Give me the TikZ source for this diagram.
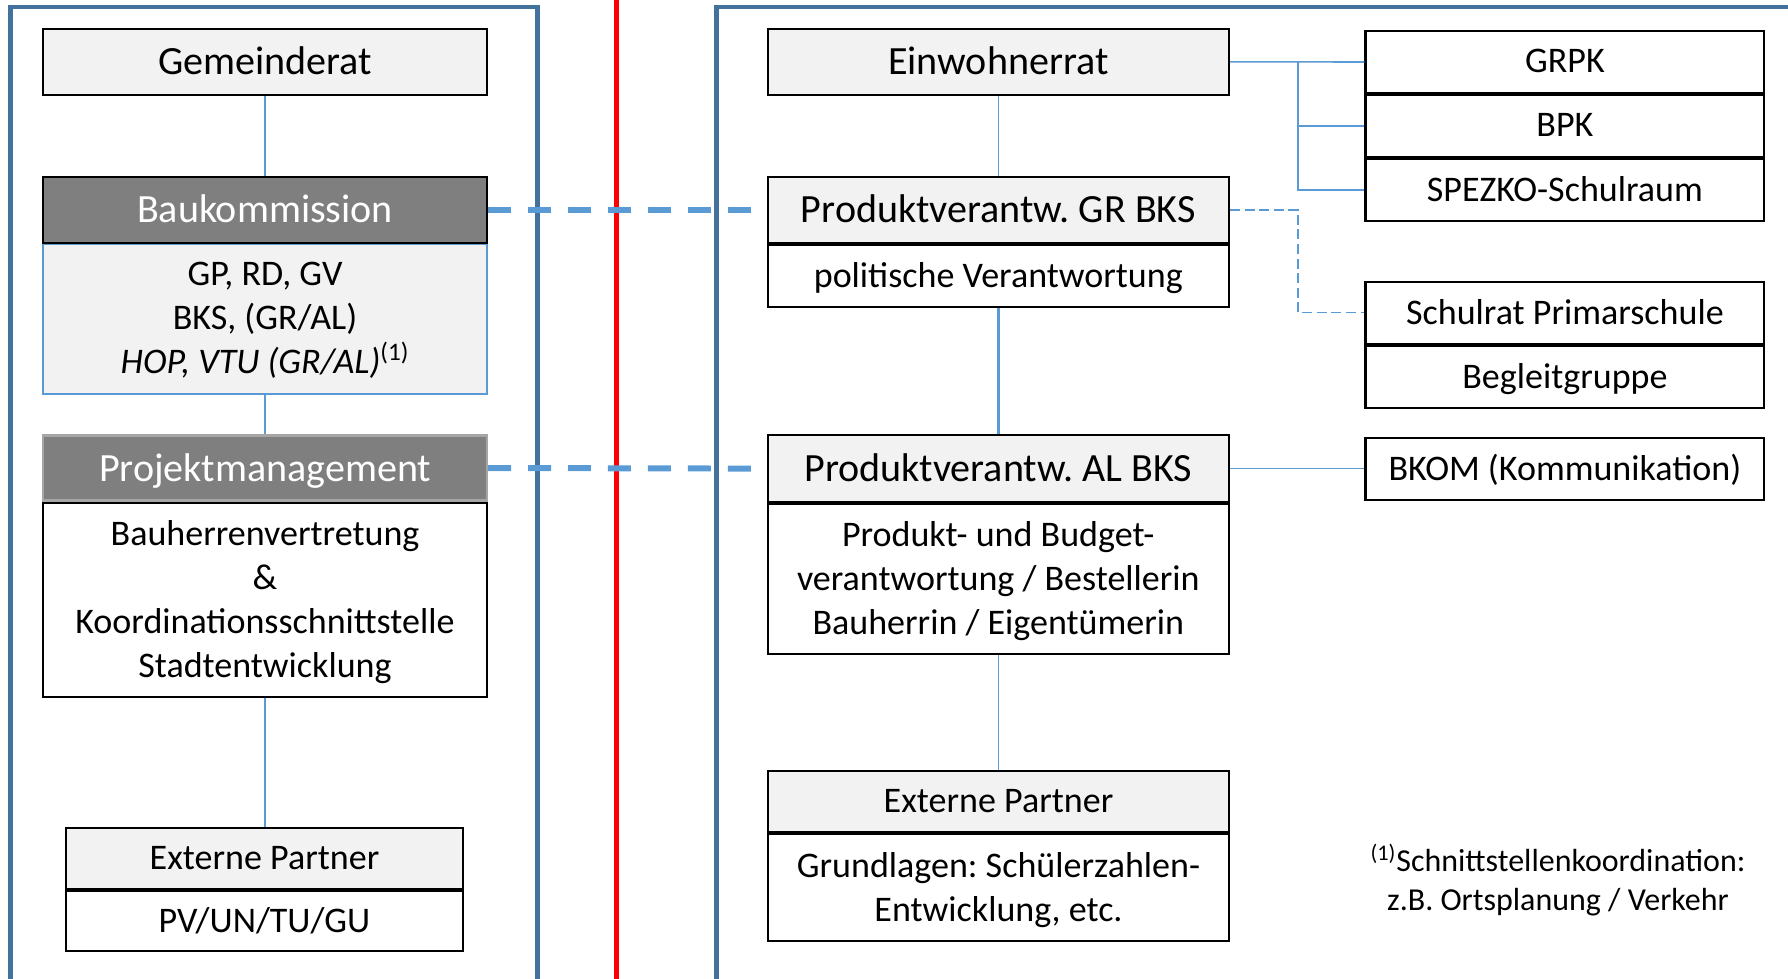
\documentclass[tikz,border=0pt]{standalone}
\usepackage{fontspec}
\setmainfont{Carlito}
\usepackage{tikz}
\frenchspacing

\definecolor{accent}{HTML}{5B9BD5}
\definecolor{frame}{HTML}{41719C}
\definecolor{boxgray}{HTML}{F2F2F2}
\definecolor{headgray}{HTML}{7F7F7F}
\newcommand{\headfont}{\fontsize{22.8}{25}\selectfont}
\newcommand{\bodyfont}{\fontsize{20.5}{25}\selectfont}
\newcommand{\notefont}{\fontsize{18.2}{22.2}\selectfont}

\begin{document}
\begin{tikzpicture}[x=0.02cm, y=-0.02cm,
  box/.style={draw=black, line width=1.2pt, inner sep=0pt, align=center, text depth=1pt, font=\bodyfont},
  head/.style={box, fill=boxgray, font=\headfont},
  dark/.style={box, fill=headgray, text=white, font=\headfont},
  lcol/.style={minimum width=8.88cm},
  rcol/.style={minimum width=9.23cm},
  side/.style={box, minimum width=7.98cm, minimum height=1.24cm},
  link/.style={draw=accent, line width=0.9pt},
  bridge/.style={draw=accent, line width=3.4pt, dash pattern=on 0.46cm off 0.34cm},
  panel/.style={draw=frame, line width=2.3pt}]
  \clip (0,0) rectangle (1788,978);
  \draw[panel] (10.5,7) rectangle (537.5,1000);
  \draw[panel] (716.5,7) rectangle (1810,1000);
  \draw[red, line width=2.8pt] (616.5,-10) -- (616.5,1000);

  % Gemeinderat side
  \node[head, lcol, minimum height=1.33cm] (gemeinderat) at (265,61.8) {Gemeinderat};
  \node[box, lcol, fill=boxgray, draw=accent, line width=0.9pt, minimum height=3.01cm, anchor=north] (bkbody) at (265,243) {GP, RD, GV\\BKS, (GR/AL)\\{\itshape HOP, VTU (GR/AL)}\textsuperscript{(1)}};
  \node[dark, lcol, minimum height=1.33cm] (bk) at (265,209.8) {Baukommission};
  \node[dark, lcol, draw=gray!70, minimum height=1.3cm] (pm) at (265,468) {Projektmanagement};
  \node[box, lcol, minimum height=3.88cm, anchor=north] (pmbody) at (pm.south) {Bauherrenvertretung\\\&\\Koordinationsschnittstelle\\Stadtentwicklung};
  \node[head, minimum width=7.94cm, minimum height=1.22cm, font=\bodyfont] (extl) at (264.5,858.5) {Externe Partner};
  \node[box, minimum width=7.94cm, minimum height=1.2cm, anchor=north] (extlbody) at (extl.south) {PV/UN/TU/GU};

  % Einwohnerrat side
  \node[head, rcol, minimum height=1.33cm] (einwohnerrat) at (998.3,61.8) {Einwohnerrat};
  \node[head, rcol, minimum height=1.33cm] (gr) at (998.3,209.8) {Produktverantw. GR BKS};
  \node[box, rcol, minimum height=1.23cm, anchor=north] (grbody) at (gr.south) {politische Verantwortung};
  \node[head, rcol, minimum height=1.34cm] (al) at (998.3,468.6) {Produktverantw. AL BKS};
  \node[box, rcol, minimum height=3.0cm, anchor=north] (albody) at (al.south) {Produkt- und Budget-\\verantwortung / Bestellerin\\Bauherrin / Eigentümerin};
  \node[head, rcol, minimum height=1.22cm, font=\bodyfont] (extr) at (998.5,801.5) {Externe Partner};
  \node[box, rcol, minimum height=2.14cm, anchor=north] (extrbody) at (extr.south) {Grundlagen: Schülerzahlen-\\Entwicklung, etc.};

  \node[side] (grpk) at (1564.9,62) {GRPK};
  \node[side, anchor=north] (bpk) at (grpk.south) {BPK};
  \node[side, anchor=north] (spezko) at (bpk.south) {SPEZKO-Schulraum};
  \node[side] (schulrat) at (1564.9,312.6) {Schulrat Primarschule};
  \node[side, anchor=north] (begleit) at (schulrat.south) {Begleitgruppe};
  \node[side] (bkom) at (1564.9,468.6) {BKOM (Kommunikation)};
  \node[align=center, font=\notefont] (note) at (1558,880) {\textsuperscript{(1)}Schnittstellenkoordination:\\z.B. Ortsplanung / Verkehr};

  \draw[link] (gemeinderat.south) -- (bk.north);
  \draw[link] (bkbody.south) -- (pm.north);
  \draw[link] (pmbody.south) -- (pmbody.south |- extl.north);
  \draw[link] (einwohnerrat.south) -- (gr.north);
  \draw[link, line width=1.8pt] (grbody.south) -- (al.north);
  \draw[link] (albody.south) -- (albody.south |- extr.north);
  \coordinate (branch) at (1297.9,62);
  \draw[link] (einwohnerrat.east) -- (grpk.west);
  \draw[link] (branch) |- (bpk.west);
  \draw[link] (branch) |- (spezko.west);
  \draw[link, line width=0.8pt, dash pattern=on 5.7pt off 2.6pt] (gr.east) -- (gr.east -| branch) |- (schulrat.west);
  \draw[link] (al.east) -- (bkom.west);
  \draw[bridge] (bk.east) -- (gr.west);
  \draw[bridge] (pm.east) -- (al.west);
\end{tikzpicture}
\end{document}
